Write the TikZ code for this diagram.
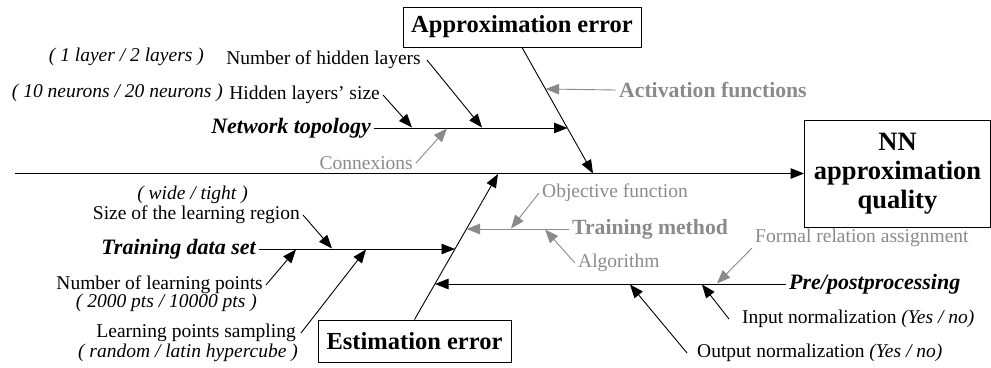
\documentclass[tikz,border=0pt]{standalone}
\usepackage{fontspec}
\setmainfont{Liberation Serif}
\usetikzlibrary{arrows.meta}
\definecolor{causegray}{RGB}{138,138,138}
\tikzset{
	fish/.style = {line width = 0.9pt, -{Triangle[length = 13.5pt, width = 10.5pt]}},
	txt/.style = {inner xsep = 3pt, inner ysep = 1pt, font = \fontsize{19.5}{20}\selectfont},
	opt/.style = {txt, font = \fontsize{19.5}{20}\selectfont\itshape},
	graytxt/.style = {txt, text = causegray},
	cause/.style = {inner sep = 3pt, font = \fontsize{22}{24}\selectfont\bfseries\itshape},
	graycause/.style = {inner sep = 3pt, text = causegray, font = \fontsize{21.7}{24}\selectfont\bfseries},
	effect/.style = {draw, line width = 0.9pt, inner sep = 2pt, font = \fontsize{24.5}{26}\selectfont\bfseries},
}

\begin{document}
\begin{tikzpicture}[x = 1pt, y = -1pt]
	\useasboundingbox (0,0) rectangle (991,367);

	\begin{scope}
		\node [effect, minimum width = 186pt, minimum height = 107pt, align = center, font = \fontsize{26.5}{29}\selectfont\bfseries] (nn) at (897.5,173.5) {NN\\approximation\\quality};
		\node [effect, minimum width = 238pt, minimum height = 40pt] (apperr) at (522,27) {Approximation error};
		\node [effect, minimum width = 193pt, minimum height = 42pt] (esterr) at (414.5,341) {Estimation error};
	\end{scope}

	\coordinate (tail) at (15,173.5);
	\coordinate (appin) at (593,173.5);
	\coordinate (estin) at (498,174);
	\coordinate (topoin) at (567.5,128);
	\coordinate (actin) at (545.6,89);
	\coordinate (datain) at (455,249);
	\coordinate (methodin) at (466.5,229);
	\coordinate (prein) at (435,284);
	\coordinate (sizein) at (412,127.5);
	\coordinate (layersin) at (482,127.5);
	\coordinate (cnxin) at (447,128.5);
	\coordinate (regionin) at (332,248.5);
	\coordinate (pointsin) at (296,249.5);
	\coordinate (samplingin) at (366,249.5);
	\coordinate (objin) at (511,228.5);
	\coordinate (algoin) at (545,229.5);
	\coordinate (formalin) at (717,283.5);
	\coordinate (inputin) at (702,284.5);
	\coordinate (outputin) at (630,284.5);

	\begin{scope}
		\node [cause, anchor = east] (topo) at (374,128) {Network topology};
		\node [txt, anchor = east, inner xsep = 6pt] (layers) at (427,60) {Number of hidden layers};
		\node [opt, anchor = east] (layersopt) at (207,57) {( 1 layer / 2 layers )};
		\node [txt, anchor = east] (size) at (383,95) {Hidden layers' size};
		\node [opt, anchor = east] (sizeopt) at (226,93) {( 10 neurons / 20 neurons )};
		\node [graytxt, anchor = east] (cnx) at (416,163) {Connexions};
		\node [graycause, anchor = west] (act) at (616,90) {Activation functions};
	\end{scope}

	\begin{scope}
		\node [cause, anchor = east] (data) at (259,249) {Training data set};
		\node [opt] (regionopt) at (192.5,195) {( wide / tight )};
		\node [txt, anchor = east] (region) at (303,215) {Size of the learning region};
		\node [txt, anchor = east] (points) at (266,285) {Number of learning points};
		\node [opt, anchor = east] (pointsopt) at (260,303) {( 2000 pts / 10000 pts )};
		\node [txt, anchor = east, inner xsep = 5pt] (sampling) at (301,333) {Learning points sampling};
		\node [opt, anchor = east] (samplingopt) at (301,353) {( random / latin hypercube )};
	\end{scope}

	\begin{scope}
		\node [graycause, anchor = west] (method) at (569,229) {Training method};
		\node [graytxt, anchor = west] (obj) at (539,193) {Objective function};
		\node [graytxt, anchor = west] (algo) at (575,263) {Algorithm};
	\end{scope}

	\begin{scope}
		\node [cause, anchor = west] (pre) at (786,284) {Pre/postprocessing};
		\node [graytxt, anchor = west] (formal) at (752,238) {Formal relation assignment};
		\node [txt, anchor = west, inner xsep = 13pt] (input) at (729,319) {Input normalization \textit{(Yes / no)}};
		\node [txt, anchor = west, inner xsep = 10pt] (output) at (687,353) {Output normalization \textit{(Yes / no)}};
	\end{scope}

	\begin{scope}[fish]
		\draw (tail) -- (nn.west);
		\draw (apperr.south) -- (appin);
		\draw (esterr.north) -- (estin);
		\draw (topo.east) -- (topoin);
		\draw (data.east) -- (datain);
		\draw (pre.west) -- (prein);
		\draw (size.east) -- (sizein);
		\draw (layers.east) -- (layersin);
		\draw (region.east) -- (regionin);
		\draw (points.east) -- (pointsin);
		\draw (sampling.east) -- (samplingin);
		\draw (input.west) -- (inputin);
		\draw (output.west) -- (outputin);
	\end{scope}

	\begin{scope}[fish, causegray]
		\draw (act.west) -- (actin);
		\draw (method.west) -- (methodin);
		\draw (cnx.east) -- (cnxin);
		\draw (obj.west) -- (objin);
		\draw (algo.west) -- (algoin);
		\draw (formal.south west) -- (formalin);
	\end{scope}
\end{tikzpicture}
\end{document}
